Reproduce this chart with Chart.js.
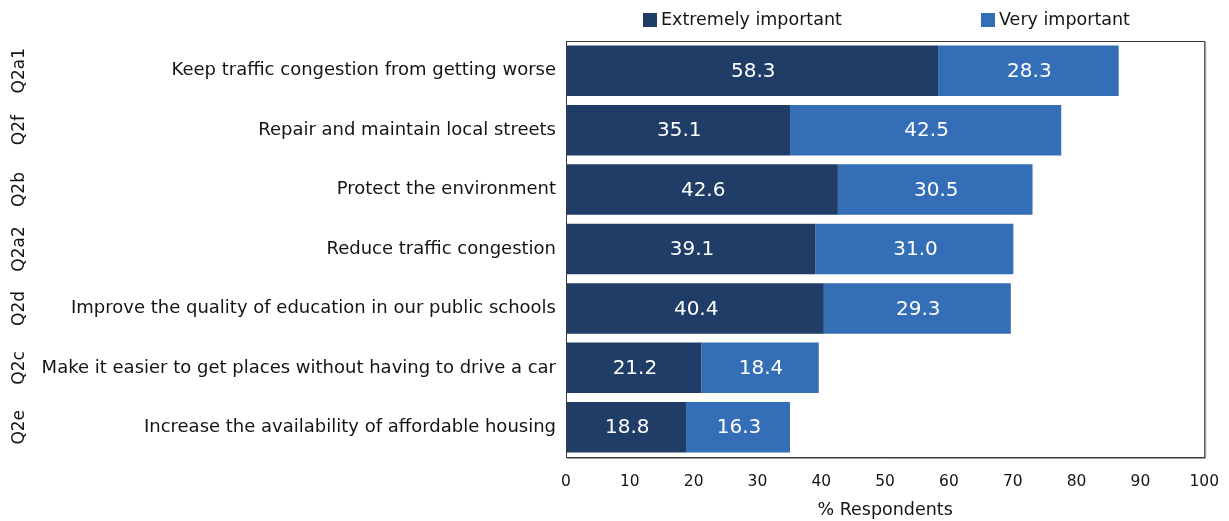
<!DOCTYPE html>
<html lang="en">
<head>
  <meta charset="UTF-8" />
  <title>Importance of priorities</title>
  <script src="https://cdn.jsdelivr.net/npm/chart.js"></script>
  <style>
    html, body {
      margin: 0;
      padding: 0;
      background: #fff;
    }
    #wrap {
      width: 1229px;
      height: 521px;
    }
  </style>
</head>
<body>
  <div id="wrap">
    <canvas id="chart" width="1229" height="521"></canvas>
  </div>

  <script>
    // Survey items, top to bottom
    const categories = [
      'Keep traffic congestion from getting worse',
      'Repair and maintain local streets',
      'Protect the environment',
      'Reduce traffic congestion',
      'Improve the quality of education in our public schools',
      'Make it easier to get places without having to drive a car',
      'Increase the availability of affordable housing'
    ];
    const questionCodes = ['Q2a1', 'Q2f', 'Q2b', 'Q2a2', 'Q2d', 'Q2c', 'Q2e'];

    // % respondents
    const extremelyImportant = [58.3, 35.1, 42.6, 39.1, 40.4, 21.2, 18.8];
    const veryImportant = [28.3, 42.5, 30.5, 31.0, 29.3, 18.4, 16.3];

    const xTicks = [0, 10, 20, 30, 40, 50, 60, 70, 80, 90, 100];

    const FONT = "'DejaVu Sans', Verdana, sans-serif";
    const TEXT = '#141414';

    // frame around the plot area, with a soft shadow on the right/bottom
    const plotFrame = {
      id: 'plotFrame',
      afterDatasetsDraw(chart) {
        const { ctx, chartArea: a } = chart;
        ctx.save();
        ctx.lineWidth = 1;
        ctx.strokeStyle = '#a0a0a0';
        ctx.beginPath();
        ctx.moveTo(a.right + 1.5, a.top + 1);
        ctx.lineTo(a.right + 1.5, a.bottom + 1.5);
        ctx.lineTo(a.left + 1, a.bottom + 1.5);
        ctx.stroke();
        ctx.strokeStyle = '#3a3a3a';
        ctx.strokeRect(a.left + 0.5, a.top + 0.5, a.right - a.left, a.bottom - a.top);
        ctx.restore();
      }
    };

    // value printed in the middle of each bar segment
    const barValues = {
      id: 'barValues',
      afterDatasetsDraw(chart) {
        const { ctx } = chart;
        ctx.save();
        ctx.font = '20px ' + FONT;
        ctx.fillStyle = '#ffffff';
        ctx.textAlign = 'center';
        ctx.textBaseline = 'middle';
        chart.data.datasets.forEach((ds, i) => {
          chart.getDatasetMeta(i).data.forEach((bar, j) => {
            const { x, y, base } = bar.getProps(['x', 'y', 'base'], true);
            ctx.fillText(ds.data[j].toFixed(1), (x + base) / 2 + 1, y + 1);
          });
        });
        ctx.restore();
      }
    };

    // rotated question codes at the far left, one per category
    const questionLabels = {
      id: 'questionLabels',
      afterDraw(chart) {
        const { ctx } = chart;
        const yScale = chart.scales.y;
        ctx.save();
        ctx.font = '17px ' + FONT;
        ctx.fillStyle = TEXT;
        ctx.textAlign = 'center';
        ctx.textBaseline = 'middle';
        questionCodes.forEach((code, i) => {
          ctx.save();
          ctx.translate(20, yScale.getPixelForValue(i));
          ctx.rotate(-Math.PI / 2);
          ctx.fillText(code, 0, 0);
          ctx.restore();
        });
        ctx.restore();
      }
    };

    // legend row above the plot
    const topLegend = {
      id: 'topLegend',
      afterDraw(chart) {
        const { ctx, chartArea: a } = chart;
        const starts = [a.left + 77, a.left + 415];
        ctx.save();
        ctx.font = '17.5px ' + FONT;
        ctx.textBaseline = 'middle';
        ctx.textAlign = 'left';
        chart.data.datasets.forEach((ds, i) => {
          const x = starts[i];
          ctx.fillStyle = ds.backgroundColor;
          ctx.fillRect(x, 13, 14, 14);
          ctx.fillStyle = TEXT;
          ctx.fillText(ds.label, x + 18, 20);
        });
        ctx.restore();
      }
    };

    const ctx = document.getElementById('chart').getContext('2d');
    const chart = new Chart(ctx, {
      type: 'bar',
      data: {
        labels: categories,
        datasets: [
          {
            label: 'Extremely important',
            data: extremelyImportant,
            backgroundColor: '#1f3d66',
            borderWidth: 0
          },
          {
            label: 'Very important',
            data: veryImportant,
            backgroundColor: '#346eb6',
            borderWidth: 0
          }
        ]
      },
      options: {
        indexAxis: 'y',
        responsive: false,
        animation: false,
        layout: {
          padding: { top: 41, right: 20, bottom: 0, left: 0 }
        },
        datasets: {
          bar: {
            barPercentage: 0.85,
            categoryPercentage: 1
          }
        },
        plugins: {
          legend: { display: false },
          tooltip: { enabled: false }
        },
        scales: {
          x: {
            stacked: true,
            min: 0,
            max: 100,
            afterBuildTicks: scale => {
              scale.ticks = xTicks.map(v => ({ value: v }));
            },
            afterFit: scale => {
              scale.height = 64;
            },
            // invisible tick marks keep the labels clear of the frame
            grid: {
              drawOnChartArea: false,
              drawTicks: true,
              tickLength: 6,
              color: 'rgba(0,0,0,0)'
            },
            border: { display: false },
            ticks: {
              padding: 10,
              color: TEXT,
              font: { family: FONT, size: 15.5 }
            },
            title: {
              display: true,
              text: '% Respondents',
              color: TEXT,
              font: { family: FONT, size: 17.5 },
              padding: { top: 11, bottom: 0 }
            }
          },
          y: {
            stacked: true,
            afterFit: scale => {
              scale.width = 566;
            },
            grid: { display: false, drawTicks: false },
            border: { display: false },
            ticks: {
              padding: 10,
              color: TEXT,
              font: { family: FONT, size: 18 }
            }
          }
        }
      },
      plugins: [plotFrame, barValues, questionLabels, topLegend]
    });
  </script>
</body>
</html>
